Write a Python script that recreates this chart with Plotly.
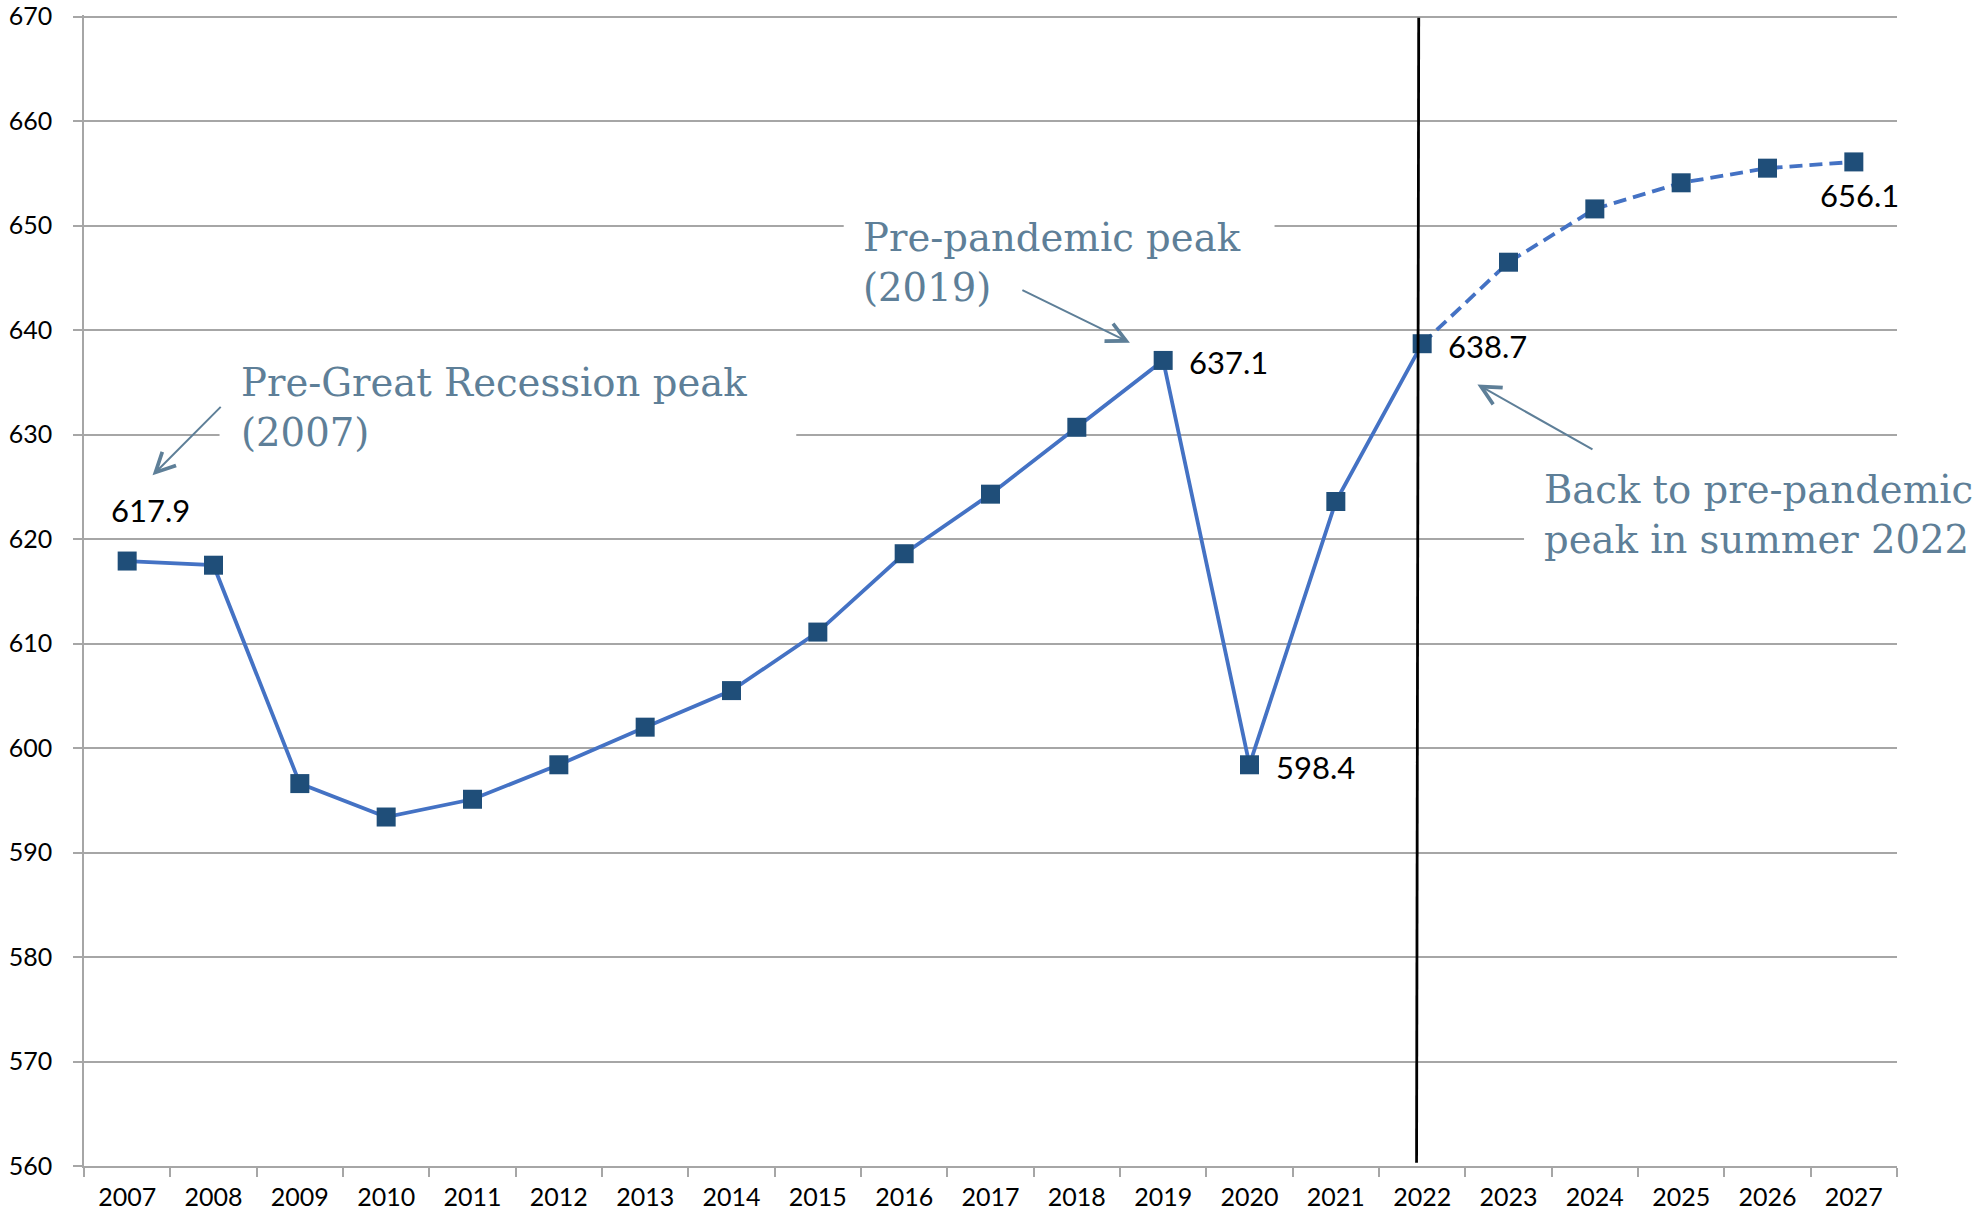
import plotly.graph_objects as go

years = [str(y) for y in range(2007, 2028)]
values = [617.9, 617.5, 596.6, 593.4, 595.1, 598.4, 602.0, 605.5, 611.1, 618.6,
          624.3, 630.7, 637.1, 598.4, 623.6, 638.7, 646.5, 651.6, 654.1, 655.5, 656.1]
forecast_start = "2022"
y_ticks = list(range(560, 680, 10))

labelled = {"2007": "above", "2019": "right", "2020": "right", "2022": "right", "2027": "below"}

LINE = "#4472C4"
MARK = "#1F4E79"
NOTE = "#5E7F98"
GRID = "#A6A6A6"
SANS = "Lato, 'Open Sans', sans-serif"
SERIF = "'DejaVu Serif', serif"

i0 = years.index(forecast_start)

fig = go.Figure()
fig.add_trace(go.Scatter(x=years[:i0 + 1], y=values[:i0 + 1], mode="lines",
                         line=dict(color=LINE, width=3.8), hoverinfo="skip"))
fig.add_trace(go.Scatter(x=years[i0:], y=values[i0:], mode="lines",
                         line=dict(color=LINE, width=3.8, dash="13px,7px"), hoverinfo="skip"))
fig.add_trace(go.Scatter(x=years, y=values, mode="markers",
                         marker=dict(symbol="square", size=19, color=MARK)))

# white boxes behind the notes (hide gridlines like the text boxes in the original)
boxes = [(1.07, 7.75, 626.7, 638.2), (8.30, 13.29, 641.3, 651.6), (16.18, 20.6, 617.0, 627.9)]
for x0, x1, y0, y1 in boxes:
    fig.add_shape(type="rect", xref="x", yref="y", x0=x0, x1=x1, y0=y0, y1=y1,
                  fillcolor="white", line=dict(width=0), layer="above")

# vertical divider at the start of the forecast
fig.add_shape(type="line", xref="x", yref="y", x0=i0 - 0.065, x1=i0 - 0.04,
              y0=560.3, y1=669.9, line=dict(color="black", width=2.8), layer="above")

# value labels
for yr, pos in labelled.items():
    k = years.index(yr)
    v = values[k]
    if pos == "above":
        kw = dict(xanchor="center", yanchor="middle", xshift=23, yshift=51)
    elif pos == "below":
        kw = dict(xanchor="center", yanchor="middle", xshift=6, yshift=-33)
    else:
        kw = dict(xanchor="left", yanchor="middle", xshift=24, yshift=-2)
    fig.add_annotation(x=k, y=v, xref="x", yref="y", text=f"{v:.1f}", showarrow=False,
                       font=dict(family=SANS, size=31, color="black"), **kw)

notes = [
    ("Pre-Great Recession peak<br>(2007)", 1.30, 632.6),
    ("Pre-pandemic peak<br>(2019)", 8.50, 646.5),
    ("Back to pre-pandemic<br>peak in summer 2022", 16.39, 622.4),
]
for txt, x, y in notes:
    fig.add_annotation(x=x, y=y, xref="x", yref="y", text=txt, showarrow=False,
                       xanchor="left", yanchor="middle", align="left",
                       font=dict(family=SERIF, size=38.6, color=NOTE))

arrows = [((0.294, 626.1), (1.101, 632.8)),
          ((11.615, 638.8), (10.352, 643.9)),
          ((15.64, 634.8), (16.99, 628.5))]
for (hx, hy), (tx, ty) in arrows:
    fig.add_annotation(x=hx, y=hy, ax=tx, ay=ty, xref="x", yref="y", axref="x", ayref="y",
                       text="", showarrow=True, arrowhead=5, arrowsize=1.9, arrowwidth=2,
                       arrowcolor=NOTE, standoff=0, startstandoff=0)

fig.update_layout(
    width=1988, height=1218,
    margin=dict(l=84, r=91, t=15, b=52, autoexpand=False),
    paper_bgcolor="white", plot_bgcolor="white",
    showlegend=False,
    font=dict(family=SANS, color="black"),
)
fig.update_xaxes(type="category", categoryorder="array", categoryarray=years,
                 range=[-0.5, len(years) - 0.5], tickson="boundaries", automargin=False,
                 ticks="outside", ticklen=9, tickcolor=GRID, tickwidth=1.5,
                 showline=True, linecolor=GRID, linewidth=1.5, showgrid=False,
                 tickfont=dict(family=SANS, size=25, color="black"), ticklabelstandoff=8)
# the top of the range sits just past 670 so Plotly keeps the 670 gridline
fig.update_yaxes(range=[560, 670.16], tickvals=y_ticks, ticktext=[str(t) for t in y_ticks],
                 automargin=False, ticklabeloverflow="allow",
                 ticks="outside", ticklen=9, tickcolor=GRID, tickwidth=1.5,
                 showline=True, linecolor=GRID, linewidth=1.5,
                 showgrid=True, gridcolor=GRID, gridwidth=1.5, zeroline=False,
                 tickfont=dict(family=SANS, size=25, color="black"), ticklabelstandoff=16)

# remove the page's default 8px body margin so the figure fills the window exactly
fig.write_html("out.html", config={"displayModeBar": False},
               post_script="document.body.style.margin='0';")
